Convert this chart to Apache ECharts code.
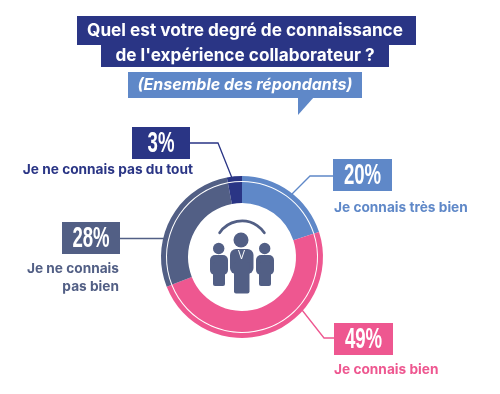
<!DOCTYPE html>
<html><head><meta charset="utf-8">
<style>html,body{margin:0;padding:0;background:#fff}#c{width:500px;height:394px}</style>
<script src="https://cdn.jsdelivr.net/npm/echarts@6/dist/echarts.min.js"></script>
</head><body><div id="c"></div>
<script>
const categories = ['Je connais très bien','Je connais bien','Je ne connais pas bien','Je ne connais pas du tout'];
const values = [20,49,28,3];
const colors = ['#5f88c8','#ee5790','#525f85','#2a3585'];
const titleLines = ['Quel est votre degré de connaissance',"de l'expérience collaborateur ?"];
const subtitle = '(Ensemble des répondants)';

const pieData = categories.map((n,i)=>({name:n,value:values[i],itemStyle:{color:colors[i]}}));
const cx=242, cy=257;
const lab='Inter, sans-serif';
const g=[];
const rect=(x,y,w,h,fill,r)=>g.push({type:'rect',shape:{x,y,width:w,height:h,r:r||0},style:{fill},silent:true});
const txt=(x,y,text,font,fill,align,extra,sx)=>g.push({type:'text',x,y,scaleX:sx||1,silent:true,style:Object.assign({text,font,fill,align:align||'left',verticalAlign:'middle'},extra||{})});
const line=(pts,stroke)=>g.push({type:'polyline',shape:{points:pts},style:{stroke,fill:null,lineWidth:1.3},silent:true});
// title
rect(77,16,339,29,'#2a3585');
rect(101,45,288,22,'#2a3585');
txt(245,31,titleLines[0],'bold 17.2px '+lab,'#fff','center');
txt(245,55.5,titleLines[1],'bold 17.2px '+lab,'#fff','center');
rect(128,72,234,26,'#5f88c8');
g.push({type:'polygon',shape:{points:[[298,97],[314,97],[298,115]]},style:{fill:'#5f88c8'},silent:true});
txt(245,85,subtitle,'italic bold 16px '+lab,'#fff','center');
// callouts
const pct='bold 30px "Liberation Sans", sans-serif';
const lbl='bold 13.7px '+lab;
const boxes=[
 {i:0,x:333,y:159,w:59,pts:[[333,176],[310,176],[292,194]],labels:[[334,208,'left']],lines:['Je connais très bien']},
 {i:1,x:334,y:323,w:59,pts:[[334,338],[324,338],[302,310]],labels:[[334,370,'left']],lines:['Je connais bien']},
 {i:2,x:62,y:222,w:58,pts:[[120,238.5],[164,238.5]],labels:[[119,269,'right'],[119,287,'right']],lines:['Je ne connais','pas bien']},
 {i:3,x:132,y:127,w:58,pts:[[190,143],[218,143],[232,178]],labels:[[193,170,'right']],lines:['Je ne connais pas du tout']}
];
boxes.forEach(b=>{
  line(b.pts,colors[b.i]);
  rect(b.x,b.y,b.w,32,colors[b.i]);
  txt(b.x+b.w/2,b.y+16.5,values[b.i]+'%',pct,'#fff','center',null,0.62);
  b.labels.forEach((l,k)=>txt(l[0],l[1],b.lines[k],lbl,colors[b.i],l[2]));
});
// icon
const ic='#525f85';
g.push({type:'arc',shape:{cx:242,cy:248,r:27,startAngle:Math.PI*1.19,endAngle:Math.PI*1.81,clockwise:true},style:{stroke:ic,fill:null,lineWidth:2.8,lineCap:'round'},silent:true});
g.push({type:'circle',shape:{cx:241,cy:240,r:7.5},style:{fill:ic},silent:true});
g.push({type:'circle',shape:{cx:218.7,cy:248.5,r:5.7},style:{fill:ic},silent:true});
g.push({type:'circle',shape:{cx:264.7,cy:248.5,r:5.7},style:{fill:ic},silent:true});
rect(210,255,18,20,ic,5);rect(213,262,12,24,ic,2);
rect(256,255,18,20,ic,5);rect(259,262,12,24,ic,2);
rect(230,249,23.5,25,ic,6);rect(234,262,15.5,31.5,ic,2);
g.push({type:'polyline',shape:{points:[[238.5,250],[241.5,259],[244.5,250]]},style:{stroke:'#fff',fill:null,lineWidth:1},silent:true});

const chart=echarts.init(document.getElementById('c'),null,{renderer:'canvas'});
const base={type:'pie',center:[cx,cy],startAngle:90,clockwise:true,silent:true,animation:false,label:{show:false},labelLine:{show:false},data:pieData};
chart.setOption({
  backgroundColor:'#fff',
  animation:false,
  series:[
    Object.assign({},base,{radius:[76,81],name:'outer'}),
    Object.assign({},base,{radius:[54,75],name:'inner'})
  ],
  graphic:g
});
</script></body></html>
